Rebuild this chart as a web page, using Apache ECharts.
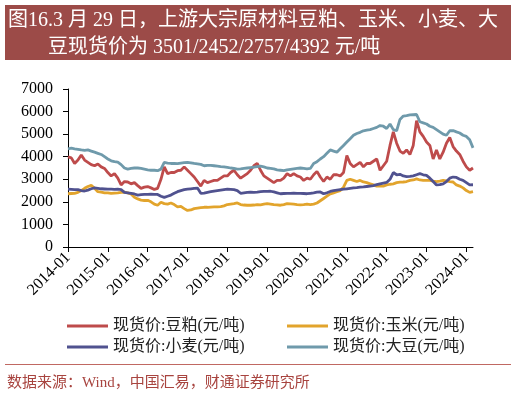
<!DOCTYPE html>
<html>
<head>
<meta charset="utf-8">
<script src="https://cdn.jsdelivr.net/npm/echarts@6/dist/echarts.min.js"></script>
<style>
  html, body { margin: 0; padding: 0; background: #fff; }
  #chart { width: 516px; height: 397px; }
</style>
</head>
<body>
<div id="chart"></div>
<script>
// 月度数据 2014-01 ~ 2024-03
const months = [];
for (let y = 2014; y <= 2024; y++) {
  for (let m = 1; m <= 12; m++) {
    if (y === 2024 && m > 3) break;
    months.push(y + '-' + (m < 10 ? '0' + m : m));
  }
}

const soymeal = [
  3990, 3950, 3700, 3850, 4080, 3850, 3750, 3650, 3600, 3680, 3550, 3480,
  3300, 3150, 3250, 3050, 2750, 2900, 2880, 2800, 2850, 2720, 2600, 2650,
  2680, 2620, 2550, 2600, 3000, 3550, 3250, 3300, 3300, 3380, 3400, 3550,
  3400, 3250, 3100, 2900, 2700, 2950, 2850, 2900, 2950, 2950, 3050, 3150,
  3150, 3300, 3400, 3200, 3050, 3150, 3250, 3400, 3600, 3700, 3400, 3150,
  3050, 2950, 2850, 2950, 2950, 3050, 3250, 3150, 3250, 3150, 3100, 2950,
  3050, 3000, 3200, 3350, 3100, 2900, 3100, 3000, 3200, 3200, 3150, 3300,
  4050, 3700, 3550, 3650, 3750, 3550, 3700, 3700, 3800, 3900, 3400, 3600,
  3800, 4500, 5100, 4600, 4250, 4150, 4300, 4100, 4500, 5600, 5100, 4900,
  4650, 4500, 3900, 4300, 3900, 4200, 4600, 4850, 4450, 4250, 4100, 3800,
  3550, 3400, 3501
];
const corn = [
  2360, 2370, 2380, 2420, 2500, 2600, 2680, 2730, 2600, 2450, 2430, 2400,
  2400, 2380, 2390, 2400, 2420, 2430, 2400, 2350, 2200, 2130, 2080, 2060,
  2070, 2000, 1900, 1850, 1980, 1920, 1900, 1950, 1880, 1780, 1800, 1700,
  1620, 1640, 1700, 1720, 1740, 1760, 1760, 1770, 1780, 1780, 1790, 1820,
  1880, 1900, 1920, 1950, 1880, 1860, 1850, 1850, 1860, 1880, 1870, 1900,
  1920, 1900, 1880, 1870, 1850, 1880, 1920, 1910, 1900, 1880, 1870, 1880,
  1900, 1880, 1900, 1950, 2050, 2150, 2250, 2350, 2400, 2450, 2500, 2650,
  2950, 3000, 2950, 2900, 2950, 2880, 2850, 2800, 2750, 2700, 2700, 2700,
  2750, 2780, 2800, 2850, 2870, 2880, 2900, 2950, 2970, 3020, 2970, 2950,
  2950, 2950, 2920, 2900, 2920, 2950, 2930, 2900, 2880, 2750, 2700, 2620,
  2500, 2420, 2452
];
const wheat = [
  2560, 2550, 2540, 2540, 2500, 2480, 2520, 2580, 2620, 2600, 2580, 2570,
  2560, 2560, 2550, 2560, 2540, 2420, 2400, 2380, 2350, 2300, 2320, 2330,
  2330, 2340, 2330, 2330, 2250, 2200, 2250, 2300, 2380, 2450, 2500, 2540,
  2560, 2580, 2600, 2610, 2380, 2390, 2420, 2450, 2480, 2500, 2520, 2540,
  2560, 2550, 2540, 2500, 2380, 2400, 2420, 2430, 2420, 2430, 2450, 2460,
  2460, 2470, 2440, 2400, 2360, 2370, 2380, 2380, 2390, 2380, 2380, 2370,
  2360, 2380, 2400, 2430, 2440, 2360, 2400, 2460, 2500, 2520, 2540, 2560,
  2580, 2600, 2620, 2630, 2650, 2660, 2680, 2700, 2720, 2760, 2800, 2830,
  2860, 3000, 3300, 3200, 3220, 3150, 3120, 3130, 3150, 3200, 3250, 3200,
  3170, 3050, 2900, 2750, 2760, 2800, 2900, 3050, 3100, 3080, 3000, 2950,
  2850, 2750, 2757
];
const soybean = [
  4350, 4380, 4350, 4330, 4300, 4280, 4300, 4250, 4200, 4150, 4100, 4000,
  3900, 3820, 3780, 3760, 3650, 3500, 3450, 3480, 3500, 3500, 3480, 3450,
  3420, 3400, 3400, 3380, 3450, 3750, 3720, 3700, 3700, 3690, 3720, 3740,
  3750, 3730, 3700, 3680, 3660, 3600, 3620, 3620, 3600, 3580, 3560, 3550,
  3530, 3500, 3480, 3450, 3460, 3480, 3500, 3520, 3540, 3560, 3580, 3550,
  3500, 3480, 3460, 3420, 3400, 3380, 3420, 3440, 3460, 3480, 3500, 3480,
  3460, 3480, 3700, 3780, 3900, 4000, 4150, 4300, 4250, 4200, 4350, 4500,
  4650, 4800, 4950, 5030, 5080, 5150, 5180, 5200, 5250, 5300, 5380, 5350,
  5250, 5450, 5200, 5150, 5650, 5800, 5820, 5850, 5860, 5870, 5550, 5500,
  5450, 5350, 5300, 5200, 5100, 5000, 4950, 5150, 5160, 5100, 5050, 4950,
  4900, 4750, 4392
];

const names = ['现货价:豆粕(元/吨)', '现货价:玉米(元/吨)', '现货价:小麦(元/吨)', '现货价:大豆(元/吨)'];
const colors = ['#BE4B4B', '#E2A42C', '#50528F', '#6F9AAB'];
const yTicks = [0, 1000, 2000, 3000, 4000, 5000, 6000, 7000];

const chart = echarts.init(document.getElementById('chart'));
const serifFont = '"Liberation Serif", "Noto Sans CJK SC"';

const legendPos = [[67, 318], [287, 318], [67, 339], [287, 339]];

const option = {
  animation: false,
  color: colors,
  grid: { left: 68, right: 43, top: 89, bottom: 150 },
  legend: names.map((n, i) => ({
    data: [n],
    left: legendPos[i][0],
    top: legendPos[i][1],
    padding: 0,
    icon: 'rect',
    itemWidth: 41,
    itemHeight: 3,
    textStyle: { fontFamily: serifFont, fontSize: 16, color: '#222' }
  })),
  xAxis: {
    type: 'category',
    data: months,
    boundaryGap: false,
    axisLine: { lineStyle: { color: '#000', width: 1 } },
    axisTick: {
      alignWithLabel: true,
      interval: (i) => i % 12 === 0,
      length: 5,
      lineStyle: { color: '#000' }
    },
    axisLabel: {
      interval: (i) => i % 12 === 0,
      rotate: 45,
      margin: 8,
      fontFamily: serifFont,
      fontSize: 16,
      color: '#000'
    }
  },
  yAxis: {
    type: 'value',
    min: yTicks[0],
    max: yTicks[yTicks.length - 1],
    interval: 1000,
    splitLine: { show: false },
    axisLine: { show: true, lineStyle: { color: '#000', width: 1 } },
    axisTick: { show: true, length: 5, lineStyle: { color: '#000' } },
    axisLabel: {
      fontFamily: serifFont,
      fontSize: 16,
      color: '#000',
      margin: 15,
      formatter: (v) => String(v)
    }
  },
  series: [soymeal, corn, wheat, soybean].map((d, i) => ({
    name: names[i],
    type: 'line',
    data: d,
    showSymbol: false,
    lineStyle: { width: 2.8, color: colors[i] },
    itemStyle: { color: colors[i] }
  })),
  graphic: [
    {
      type: 'rect',
      shape: { x: 5, y: 5, width: 506, height: 55 },
      style: { fill: '#9C4B48' }
    },
    {
      type: 'text',
      x: 8, y: 21,
      style: {
        text: '图16.3 月 29 日，上游大宗原材料豆粕、玉米、小麦、大',
        fill: '#fff',
        fontFamily: serifFont,
        fontSize: 20,
        verticalAlign: 'middle'
      }
    },
    {
      type: 'text',
      x: 48, y: 48,
      style: {
        text: '豆现货价为 3501/2452/2757/4392 元/吨',
        fill: '#fff',
        fontFamily: serifFont,
        fontSize: 20,
        verticalAlign: 'middle'
      }
    },
    {
      type: 'line',
      shape: { x1: 5, y1: 364.5, x2: 511, y2: 364.5 },
      style: { stroke: '#C06862', lineWidth: 1 }
    },
    {
      type: 'text',
      x: 7, y: 383,
      style: {
        text: '数据来源：Wind，中国汇易，财通证券研究所',
        fill: '#A8443F',
        fontFamily: serifFont,
        fontSize: 15,
        verticalAlign: 'middle'
      }
    }
  ]
};

chart.setOption(option);
window.addEventListener('resize', () => chart.resize());
</script>
</body>
</html>
